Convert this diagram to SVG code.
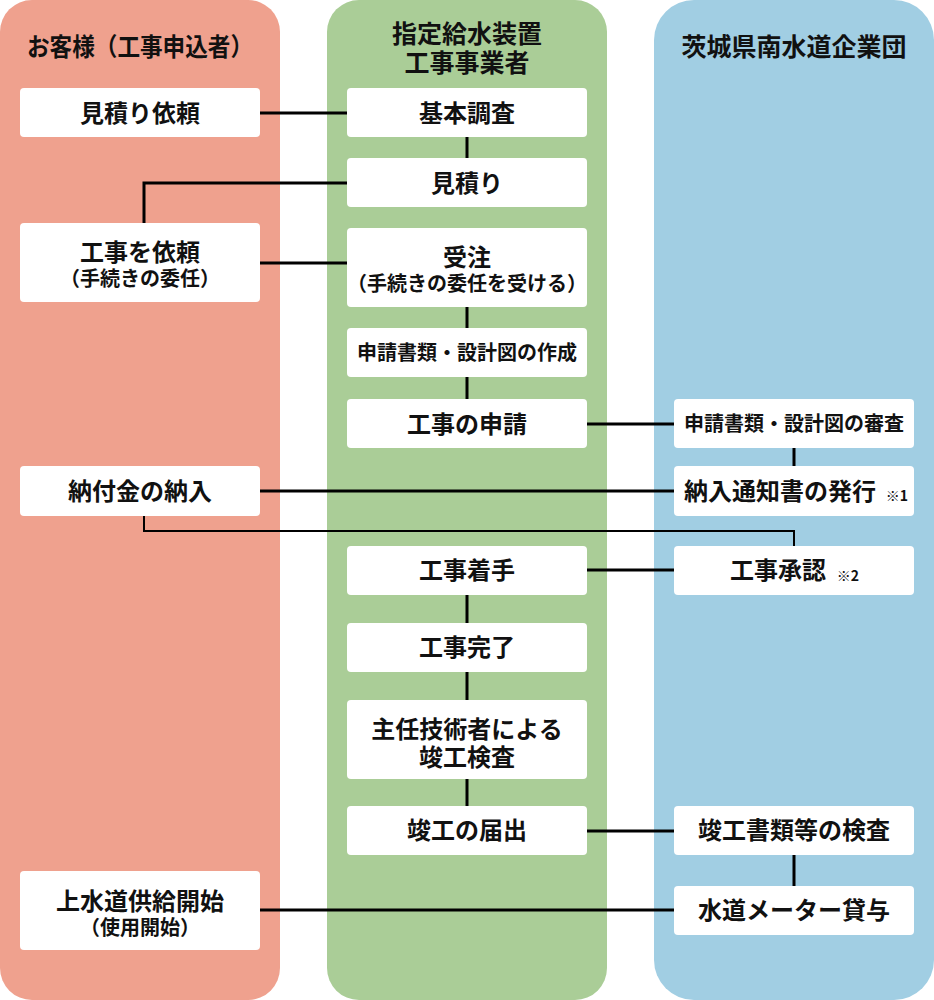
<svg xmlns="http://www.w3.org/2000/svg" width="934" height="1000" viewBox="0 0 934 1000">
<style>
.t{font-family:"Noto Sans CJK JP","Noto Sans CJK SC",sans-serif;font-weight:bold;fill:#111;text-anchor:middle}
.h{font-size:25px}
.b{font-size:24px}
.s{font-size:20px}
.n{font-size:14px}
.box{fill:#fff}
.c{stroke:#000;stroke-width:3;fill:none}
</style>
<g id="lanes">
<rect x="0" y="0" width="280" height="1000" rx="32" fill="#EFA18E"/>
<rect x="327" y="0" width="280" height="1000" rx="32" fill="#AACD97"/>
<rect x="654" y="0" width="280" height="1000" rx="40" fill="#A1CEE3"/>
</g>
<g id="headers">
<text class="t h" x="140" y="56" textLength="226" lengthAdjust="spacingAndGlyphs">お客様（工事申込者）</text>
<text class="t h" x="467" y="43">指定給水装置</text>
<text class="t h" x="467" y="72">工事事業者</text>
<text class="t h" x="794" y="56">茨城県南水道企業団</text>
</g>
<g id="connectors">
<path class="c" d="M260,113H347"/>
<path class="c" d="M467,137V158"/>
<path class="c" d="M347,183H144V223"/>
<path class="c" d="M260,263H347"/>
<path class="c" d="M467,307V328"/>
<path class="c" d="M467,377V399"/>
<path class="c" d="M587,424H674"/>
<path class="c" d="M794,448V466"/>
<path class="c" d="M260,491H674"/>
<path class="c" d="M144,516V531H794V546" style="stroke-width:2"/>
<path class="c" d="M587,570H674"/>
<path class="c" d="M467,595V623"/>
<path class="c" d="M467,672V700"/>
<path class="c" d="M467,779V806"/>
<path class="c" d="M587,831H674"/>
<path class="c" d="M794,855V886"/>
<path class="c" d="M260,910H674"/>
</g>
<g id="n1"><rect class="box" x="20" y="88" width="240" height="49" rx="4"/><text class="t b" x="140" y="122">見積り依頼</text></g>
<g id="n2"><rect class="box" x="347" y="88" width="240" height="49" rx="4"/><text class="t b" x="467" y="122">基本調査</text></g>
<g id="n3"><rect class="box" x="347" y="158" width="240" height="49" rx="4"/><text class="t b" x="467" y="192">見積り</text></g>
<g id="n4"><rect class="box" x="20" y="223" width="240" height="79" rx="4"/><text class="t b" x="140" y="261">工事を依頼</text><text class="t s" x="140" y="286">（手続きの委任）</text></g>
<g id="n5"><rect class="box" x="347" y="228" width="240" height="79" rx="4"/><text class="t b" x="467" y="266">受注</text><text class="t s" x="467" y="291">（手続きの委任を受ける）</text></g>
<g id="n6"><rect class="box" x="347" y="328" width="240" height="49" rx="4"/><text class="t s" x="467" y="360">申請書類・設計図の作成</text></g>
<g id="n7"><rect class="box" x="347" y="399" width="240" height="49" rx="4"/><text class="t b" x="467" y="433">工事の申請</text></g>
<g id="n8"><rect class="box" x="674" y="399" width="240" height="49" rx="4"/><text class="t s" x="794" y="431">申請書類・設計図の審査</text></g>
<g id="n9"><rect class="box" x="674" y="466" width="240" height="50" rx="4"/><text class="t b" x="780" y="500">納入通知書の発行</text><text class="t n" x="897" y="501">※1</text></g>
<g id="n10"><rect class="box" x="20" y="466" width="240" height="50" rx="4"/><text class="t b" x="140" y="500">納付金の納入</text></g>
<g id="n11"><rect class="box" x="347" y="546" width="240" height="49" rx="4"/><text class="t b" x="467" y="579">工事着手</text></g>
<g id="n12"><rect class="box" x="674" y="546" width="240" height="49" rx="4"/><text class="t b" x="778" y="579">工事承認</text><text class="t n" x="848" y="581">※2</text></g>
<g id="n13"><rect class="box" x="347" y="623" width="240" height="49" rx="4"/><text class="t b" x="467" y="656">工事完了</text></g>
<g id="n14"><rect class="box" x="347" y="700" width="240" height="79" rx="4"/><text class="t b" x="467" y="738">主任技術者による</text><text class="t b" x="467" y="766">竣工検査</text></g>
<g id="n15"><rect class="box" x="347" y="806" width="240" height="49" rx="4"/><text class="t b" x="467" y="839">竣工の届出</text></g>
<g id="n16"><rect class="box" x="674" y="806" width="240" height="49" rx="4"/><text class="t b" x="794" y="839">竣工書類等の検査</text></g>
<g id="n17"><rect class="box" x="20" y="871" width="240" height="79" rx="4"/><text class="t b" x="140" y="910">上水道供給開始</text><text class="t s" x="140" y="935">（使用開始）</text></g>
<g id="n18"><rect class="box" x="674" y="886" width="240" height="49" rx="4"/><text class="t b" x="794" y="919">水道メーター貸与</text></g>
</svg>
